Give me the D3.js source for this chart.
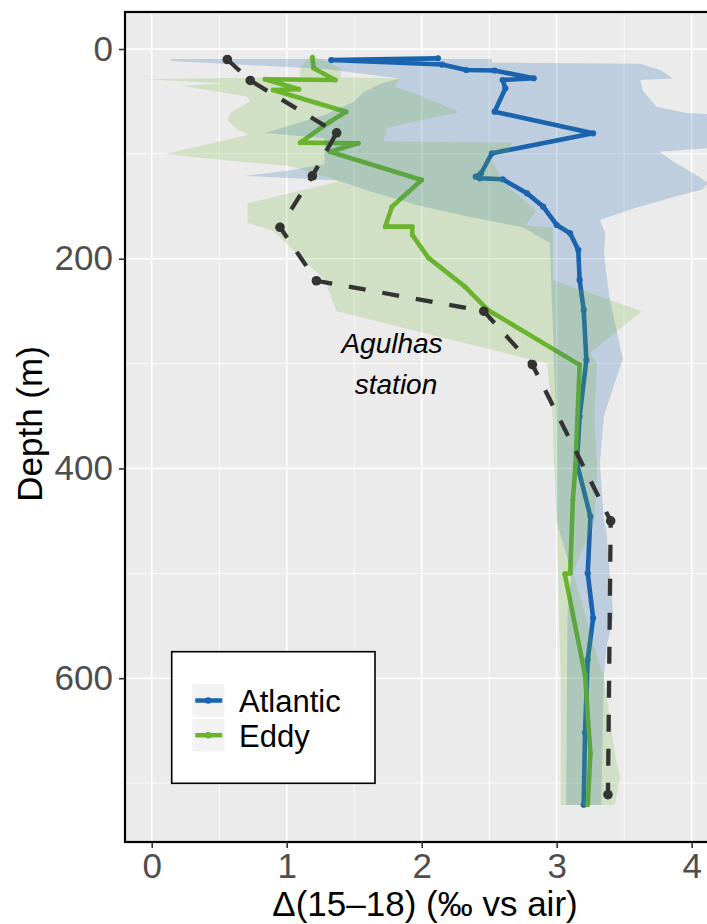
<!DOCTYPE html>
<html>
<head>
<meta charset="utf-8">
<script src="https://cdn.jsdelivr.net/npm/d3@7/dist/d3.min.js"></script>
<style>
  body { margin: 0; background: #fff; }
  text { font-family: "Liberation Sans", Arial, Helvetica, sans-serif; }
</style>
</head>
<body>
<script>
// Atlantic profile (mean)
var atlDepth = [8.9, 10.5, 14.8, 20.0, 20.5, 27.9, 29.6, 37.5, 59.8, 80.4, 99.4, 118.5, 121.7, 123.3, 124.2, 137.6, 150.3, 167.8, 175.7, 191.6, 220.2, 248.8, 296.5, 350.5, 395, 445.9, 499.8, 542.7, 582.5, 652, 720.7]
var atlVal   = [2.12, 1.33, 2.15, 2.33, 2.54, 2.83, 2.60, 2.62, 2.54, 3.27, 2.52, 2.44, 2.40, 2.43, 2.60, 2.78, 2.90, 3.00, 3.10, 3.16, 3.17, 3.20, 3.22, 3.17, 3.15, 3.25, 3.23, 3.27, 3.23, 3.21, 3.20]

// Atlantic spread (upper / lower edge)
var atlHiDepth = [9.5, 13, 14, 20, 28, 29.5, 40, 55, 61, 64, 92, 98, 107, 122, 128, 134, 140, 152, 163, 176, 195, 236, 296, 322, 350, 395, 449, 462, 541, 570, 598, 721]
var atlHiVal   = [2.52, 2.52, 3.62, 3.77, 3.86, 3.62, 3.64, 3.74, 3.96, 4.4, 4.4, 3.76, 3.86, 4.06, 4.12, 4.08, 3.9, 3.57, 3.32, 3.36, 3.35, 3.39, 3.49, 3.42, 3.35, 3.32, 3.35, 3.37, 3.42, 3.37, 3.35, 3.33]
var atlLoDepth = [9.5, 11.5, 19, 28, 33, 41, 50, 63, 80, 85, 110, 116, 121, 125.5, 137, 150, 160, 170, 185, 300, 360, 450, 500, 540, 721]
var atlLoVal   = [0.14, 0.14, 1.28, 1.84, 1.70, 1.57, 1.50, 1.28, 0.84, 1.28, 1.28, 1.01, 0.69, 1.38, 1.65, 2.00, 2.35, 2.75, 2.95, 2.98, 3.00, 3.00, 3.11, 3.08, 3.07]

// Eddy profile (mean)
var eddyDepth = [7.9, 18.4, 29.6, 28.9, 38.4, 39.1, 59.8, 69.3, 89.3, 89.9, 97.9, 124.9, 150.3, 169.4, 169.4, 177.3, 199.2, 226.6, 248.8, 301.2, 395, 430, 499.8, 500.5, 596.8, 671.4, 720.7]
var eddyVal   = [1.19, 1.20, 1.36, 0.84, 1.09, 0.90, 1.44, 1.32, 1.10, 1.53, 1.32, 2.00, 1.78, 1.73, 1.93, 1.93, 2.05, 2.32, 2.49, 3.17, 3.14, 3.12, 3.10, 3.06, 3.21, 3.25, 3.23]

// Eddy spread (upper / lower edge)
var eddyHiDepth = [8, 18, 27, 28, 36, 45, 60, 75, 88, 89.5, 99, 101, 128, 154, 168, 170, 220, 250, 290, 300, 350, 400, 450, 500, 600, 678, 694, 721]
var eddyHiVal   = [1.22, 1.40, 1.40, 1.84, 1.80, 2.00, 2.28, 1.74, 1.72, 2.67, 2.65, 2.50, 2.61, 2.85, 2.77, 2.97, 2.97, 3.63, 3.25, 3.30, 3.28, 3.30, 3.28, 3.12, 3.35, 3.44, 3.47, 3.43]
var eddyLoDepth = [8, 18, 27, 28.5, 33, 35, 40, 45, 50, 60, 68, 75, 82, 100, 106, 112, 125.5, 126.5, 147, 166, 172.5, 220, 250, 300, 350, 395, 450, 500, 600, 721]
var eddyLoVal   = [1.16, 1.10, 1.10, -0.07, 0.55, 0.23, 0.45, 0.70, 0.73, 0.59, 0.56, 0.62, 0.71, 0.10, 0.55, 1.04, 1.38, 1.38, 0.71, 0.71, 0.89, 1.28, 1.37, 2.93, 2.97, 2.98, 3.00, 3.01, 3.03, 3.03]

// Agulhas station
var agDepth = [10, 30, 80, 121, 170, 221, 250, 301, 450, 711]
var agVal   = [0.56, 0.73, 1.37, 1.19, 0.95, 1.22, 2.46, 2.82, 3.40, 3.38]

var xTicks = [0, 1, 2, 3, 4]
var xMinor = [0.5, 1.5, 2.5, 3.5]
var yTicks = [0, 200, 400, 600]
var yMinor = [100, 300, 500, 700]
var seriesNames = ['Atlantic', 'Eddy']

var W = 707, H = 924
var panel = { left: 125, top: 12, right: 725, bottom: 842 }
var blue = '#1a64ae', green = '#6ab42c'

var x = d3.scaleLinear().domain([-0.198, 4.247]).range([panel.left, panel.right])
var y = d3.scaleLinear().domain([-35.3, 756.2]).range([panel.top, panel.bottom])

var svg = d3.select('body').append('svg')
	.attr('width', W)
	.attr('height', H)

svg.append('defs').append('clipPath').attr('id', 'clip')
	.append('rect')
	.attr('x', panel.left).attr('y', panel.top)
	.attr('width', panel.right - panel.left).attr('height', panel.bottom - panel.top)

svg.append('rect')
	.attr('x', panel.left).attr('y', panel.top)
	.attr('width', panel.right - panel.left).attr('height', panel.bottom - panel.top)
	.attr('fill', '#ebebeb')

var grid = svg.append('g')
grid.selectAll('.vmin').data(xMinor).enter().append('line')
	.attr('x1', x).attr('x2', x).attr('y1', panel.top).attr('y2', panel.bottom)
	.attr('stroke', '#fff').attr('stroke-width', 0.8)
grid.selectAll('.hmin').data(yMinor).enter().append('line')
	.attr('y1', y).attr('y2', y).attr('x1', panel.left).attr('x2', panel.right)
	.attr('stroke', '#fff').attr('stroke-width', 0.8)
grid.selectAll('.vmaj').data(xTicks).enter().append('line')
	.attr('x1', x).attr('x2', x).attr('y1', panel.top).attr('y2', panel.bottom)
	.attr('stroke', '#fff').attr('stroke-width', 1.6)
grid.selectAll('.hmaj').data(yTicks).enter().append('line')
	.attr('y1', y).attr('y2', y).attr('x1', panel.left).attr('x2', panel.right)
	.attr('stroke', '#fff').attr('stroke-width', 1.6)

function pts(depths, vals){
	return depths.map(function(d, i){ return [vals[i], d] })
}
var line = d3.line().x(function(p){ return x(p[0]) }).y(function(p){ return y(p[1]) })

function ribbon(hiD, hiV, loD, loV){
	var hi = pts(hiD, hiV), lo = pts(loD, loV).reverse()
	return line(hi.concat(lo)) + 'Z'
}

var plot = svg.append('g').attr('clip-path', 'url(#clip)')

// profile lines first, spreads drawn over them
var profiles = [
	{ name: 'Atlantic', color: blue, p: pts(atlDepth, atlVal), r: 3.1 },
	{ name: 'Eddy', color: green, p: pts(eddyDepth, eddyVal), r: 2.5 }
]
profiles.forEach(function(s){
	plot.append('path')
		.attr('d', line(s.p))
		.attr('fill', 'none')
		.attr('stroke', s.color)
		.attr('stroke-width', 4.6)
		.attr('stroke-linejoin', 'round')
	plot.selectAll(null).data(s.p).enter().append('circle')
		.attr('cx', function(p){ return x(p[0]) })
		.attr('cy', function(p){ return y(p[1]) })
		.attr('r', s.r)
		.attr('fill', s.color)
})

plot.append('path')
	.attr('d', ribbon(atlHiDepth, atlHiVal, atlLoDepth, atlLoVal))
	.attr('fill', blue).attr('fill-opacity', 0.21)
plot.append('path')
	.attr('d', ribbon(eddyHiDepth, eddyHiVal, eddyLoDepth, eddyLoVal))
	.attr('fill', green).attr('fill-opacity', 0.2)

// Agulhas station
var ag = pts(agDepth, agVal)
plot.append('path')
	.attr('d', line(ag))
	.attr('fill', 'none')
	.attr('stroke', '#333')
	.attr('stroke-width', 4.3)
	.attr('stroke-dasharray', '17,17')
plot.selectAll('.ag').data(ag).enter().append('circle')
	.attr('cx', function(p){ return x(p[0]) })
	.attr('cy', function(p){ return y(p[1]) })
	.attr('r', 4.8)
	.attr('fill', '#333')

svg.append('text')
	.attr('x', 392).attr('y', 353)
	.attr('text-anchor', 'middle')
	.attr('font-size', 28).attr('font-style', 'italic')
	.text('Agulhas')
svg.append('text')
	.attr('x', 396).attr('y', 394)
	.attr('text-anchor', 'middle')
	.attr('font-size', 28).attr('font-style', 'italic')
	.text('station')

// panel border
svg.append('rect')
	.attr('x', panel.left).attr('y', panel.top)
	.attr('width', panel.right - panel.left).attr('height', panel.bottom - panel.top)
	.attr('fill', 'none').attr('stroke', '#000').attr('stroke-width', 2.2)

// axes
var xAxis = svg.append('g')
	.attr('transform', 'translate(0,' + panel.bottom + ')')
	.call(d3.axisBottom(x).tickValues(xTicks).tickSize(6).tickPadding(5).tickFormat(d3.format('d')))
var yAxis = svg.append('g')
	.attr('transform', 'translate(' + panel.left + ',0)')
	.call(d3.axisLeft(y).tickValues(yTicks).tickSize(6).tickPadding(6).tickFormat(d3.format('d')))
;[xAxis, yAxis].forEach(function(a){
	a.select('.domain').remove()
	a.selectAll('line').attr('stroke', '#333').attr('stroke-width', 1.6)
	a.selectAll('text')
		.attr('fill', '#4d4d4d')
		.attr('font-size', 35)
		.style('font-family', '"Liberation Sans", Arial, sans-serif')
})

svg.append('text')
	.attr('x', 425).attr('y', 916)
	.attr('text-anchor', 'middle')
	.attr('font-size', 35)
	.text('\u0394(15\u201318) (\u2030 vs air)')
svg.append('text')
	.attr('transform', 'translate(42,424) rotate(-90)')
	.attr('text-anchor', 'middle')
	.attr('font-size', 35)
	.text('Depth (m)')

// legend
var leg = svg.append('g')
leg.append('rect')
	.attr('x', 171.7).attr('y', 651.7).attr('width', 203.3).attr('height', 131.6)
	.attr('fill', '#fff').attr('stroke', '#000').attr('stroke-width', 1.6)
var keys = leg.selectAll('.key').data(seriesNames).enter().append('g')
	.attr('transform', function(d, i){ return 'translate(192.3,' + (684.3 + i * 34.7) + ')' })
keys.append('rect')
	.attr('width', 32).attr('height', 32.4).attr('fill', '#f2f2f2')
keys.append('line')
	.attr('x1', 3).attr('x2', 30).attr('y1', 16.2).attr('y2', 16.2)
	.attr('stroke', function(d, i){ return i ? green : blue }).attr('stroke-width', 4.5)
keys.append('circle')
	.attr('cx', 16).attr('cy', 16.2).attr('r', 3.3)
	.attr('fill', function(d, i){ return i ? green : blue })
keys.append('text')
	.attr('x', 46.7).attr('y', 27.5)
	.attr('font-size', 31)
	.text(function(d){ return d })
</script>
</body>
</html>
